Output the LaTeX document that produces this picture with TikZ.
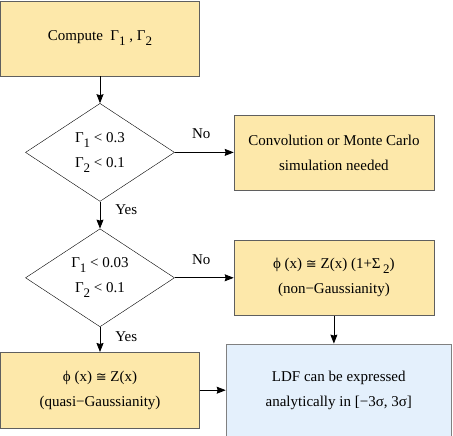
\documentclass[tikz,border=0pt]{standalone}
\usepackage{fontspec}
\setmainfont{Liberation Serif}
\newfontfamily\symfnt{DejaVu Sans}
\usetikzlibrary{arrows.meta, positioning, shapes.geometric}
\definecolor{boxfill}{RGB}{253,232,170}
\definecolor{ldffill}{RGB}{228,240,252}
\definecolor{boxline}{RGB}{95,95,95}
\newcommand{\lowi}[1]{\raisebox{-5pt}{\fontsize{13}{13}\selectfont #1}}
\newcommand{\congsym}{{\symfnt\fontsize{13}{13}\selectfont ≅}}
\tikzset{
  box/.style  ={draw=boxline, fill=boxfill, align=center, inner sep=2pt,
                minimum height=75pt, minimum width=199pt},
  cond/.style ={draw, diamond, aspect=1.52, align=center, inner sep=0pt,
                minimum width=149pt, minimum height=98pt},
  final/.style={draw=gray, line width=1.2pt, fill=ldffill, align=center,
                minimum height=92pt, minimum width=225pt},
  arr/.style  ={-{Stealth[length=9pt, width=7pt, inset=1pt]}, thick},
  lbl/.style  ={inner sep=1pt},
}

\begin{document}
\begin{tikzpicture}[x=1pt, y=1pt, font=\fontsize{15}{25}\selectfont]
  \useasboundingbox (0,0) rectangle (453,-436);
  \node[box]                        (comp)  at (100,-38.5) {Compute \ Γ\lowi{1} , Γ\lowi{2}};
  \node[cond, below=27pt of comp]   (test1) {Γ\lowi{1} < 0.3\\Γ\lowi{2} < 0.1};
  \node[box, right=59pt of test1, minimum width=200pt] (conv)
        {Convolution or Monte Carlo\\simulation needed};
  \node[cond, below=27pt of test1]  (test2) {Γ\lowi{1} < 0.03\\Γ\lowi{2} < 0.1};
  \node[box, right=59pt of test2, minimum width=200pt] (nong)
        {ϕ (x) \congsym{} Z(x) (1+Σ\,\lowi{2})\\(non−Gaussianity)};
  \node[box, below=25pt of test2, minimum height=76pt] (quasi)
        {ϕ (x) \congsym{} Z(x)\\(quasi−Gaussianity)};
  \node[final, right=26pt of quasi] (ldf)
        {LDF can be expressed\\analytically in [−3σ, 3σ]};

  \draw[arr] (comp)  -- (test1);
  \draw[arr] (test1) -- node[lbl, above=12pt, pos=0.45]{No} (conv);
  \draw[arr] (test1) -- node[lbl, right=14pt, pos=0.3]{Yes} (test2);
  \draw[arr] (test2) -- node[lbl, above=12pt, pos=0.45]{No} (nong);
  \draw[arr] (test2) -- node[lbl, right=14pt, pos=0.4]{Yes} (quasi);
  \draw[arr] (nong)  -- (ldf.north -| nong);
  \draw[arr] (quasi) -- (ldf);
\end{tikzpicture}
\end{document}
